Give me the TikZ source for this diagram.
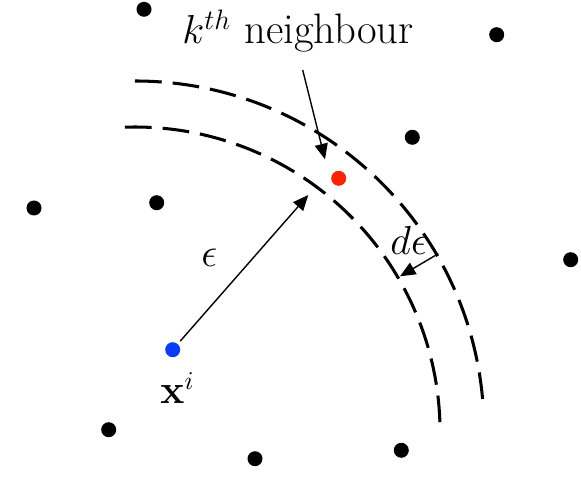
\documentclass[tikz,border=0pt]{standalone}
\usetikzlibrary{arrows.meta}
\definecolor{queryblue}{RGB}{10,60,250}
\definecolor{nbrred}{RGB}{250,35,5}

\begin{document}
\begin{tikzpicture}[x=0.015cm, y=0.015cm,
  sample/.style={circle, fill=black, inner sep=0pt, minimum size=0.225cm},
  shell/.style={draw=black, line width=1.3pt, dash pattern=on 11.4pt off 4.7pt},
  pointer/.style={draw=black, line width=0.6pt, -{Triangle[length=6.6pt,width=5.6pt]}},
  lbl/.style={inner sep=0pt, anchor=base west, font=\fontsize{16}{19}\selectfont},
  title/.style={inner sep=0pt, anchor=base west, font=\fontsize{18.2}{22}\selectfont}
]
\useasboundingbox (0,0) rectangle (581,494);

\node[sample] (s1) at (144,484.7) {};
\node[sample] (s2) at (496.7,459.3) {};
\node[sample] (s3) at (412.3,356.7) {};
\node[sample] (s4) at (34,286) {};
\node[sample] (s5) at (156.7,291.3) {};
\node[sample] (s6) at (570.7,234.3) {};
\node[sample] (s7) at (108.7,64.3) {};
\node[sample] (s8) at (255,35.3) {};
\node[sample] (s9) at (401.3,43.7) {};
\node[sample, fill=queryblue] (xi) at (172.7,144.3) {};
\node[sample, fill=nbrred] (kth) at (338.7,315.7) {};

\coordinate (ctr) at (135,64);
\draw[shell] (ctr) ++(91.9:303) arc[start angle=91.9, end angle=0.8, radius=305];
\draw[shell] (ctr) ++(90:349) arc[start angle=90, end angle=4.6, radius=349];

\node[title] (kthlabel) at (182,450) {$k^{th}$ neighbour};
\node[lbl] (epslabel) at (201,227) {$\epsilon$};
\node[lbl] (depslabel) at (390,240) {$d\epsilon$};
\node[lbl] (xilabel) at (160,90) {$\mathbf{x}^i$};

\coordinate (kout) at (302.7,424);
\coordinate (kin) at (325,334.7);
\coordinate (etip) at (308.3,299);
\coordinate (dout) at (438.3,240.3);
\coordinate (din) at (400,217.7);

\draw[pointer] (kout) -- (kin);
\draw[pointer, shorten <=1.5pt] (xi) -- (etip);
\draw[pointer] (dout) -- (din);
\end{tikzpicture}
\end{document}
